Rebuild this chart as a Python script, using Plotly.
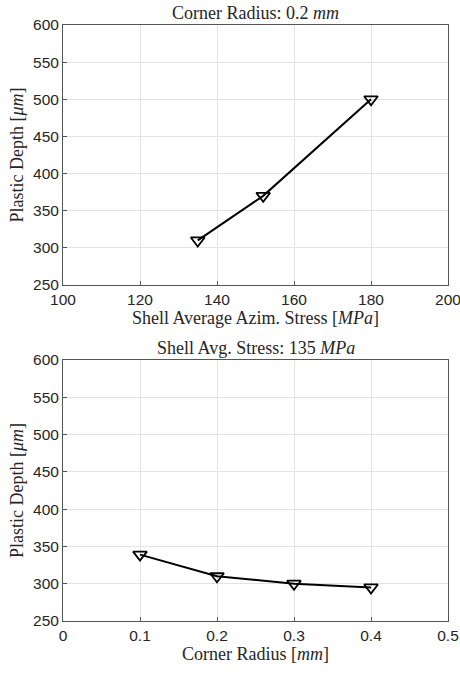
import plotly.graph_objects as go
from plotly.subplots import make_subplots

# Top panel: corner radius 0.2 mm
stress = [135, 152, 180]
depth_stress = [310, 370, 500]
# Bottom panel: shell avg stress 135 MPa
radius = [0.1, 0.2, 0.3, 0.4]
depth_radius = [339, 310, 300, 295]

y_ticks = [250, 300, 350, 400, 450, 500, 550, 600]
x1_ticks = [100, 120, 140, 160, 180, 200]
x2_ticks = [0, 0.1, 0.2, 0.3, 0.4, 0.5]
x2_labels = ["0", "0.1", "0.2", "0.3", "0.4", "0.5"]

W, H = 460, 673
ml, mr, mt, mb = 63, 12, 25, 52
ph = H - mt - mb

def dom(top_px, bot_px):
    return [(H - mb - bot_px) / ph, (H - mb - top_px) / ph]

fig = make_subplots(rows=2, cols=1)

marker = dict(symbol="triangle-down-open", size=12, color="black", line=dict(width=1.8, color="black"))
fig.add_trace(go.Scatter(x=stress, y=depth_stress, mode="lines+markers",
                         line=dict(color="black", width=2), marker=marker, showlegend=False), row=1, col=1)
fig.add_trace(go.Scatter(x=radius, y=depth_radius, mode="lines+markers",
                         line=dict(color="black", width=2), marker=marker, showlegend=False), row=2, col=1)

serif = "Liberation Serif, DejaVu Serif, serif"
sans = "Liberation Sans, DejaVu Sans, sans-serif"
axcol = "#262626"

common_axis = dict(showline=True, mirror=True, linecolor="#555555", linewidth=1,
                   ticks="inside", ticklen=4, tickcolor="#555555", automargin=False,
                   showgrid=True, gridcolor="#e3e3e3", gridwidth=1, zeroline=False,
                   tickfont=dict(family=sans, size=15.5, color=axcol))

fig.update_xaxes(**common_axis, ticklabeloverflow="allow")
fig.update_yaxes(**common_axis)

tf = dict(family=serif, size=18, color=axcol)
fig.update_xaxes(range=[100, 200], tickvals=x1_ticks, domain=[0, 1],
                 title=dict(text="Shell Average Azim. Stress [<i>MPa</i>]", font=tf, standoff=2),
                 row=1, col=1)
fig.update_xaxes(range=[0, 0.5], tickvals=x2_ticks, ticktext=x2_labels, domain=[0, 1],
                 title=dict(text="Corner Radius [<i>mm</i>]", font=tf, standoff=2),
                 row=2, col=1)
ytitle = dict(text="Plastic Depth [<i>μm</i>]", font=tf, standoff=4)
fig.update_yaxes(range=[250, 600], tickvals=y_ticks, domain=dom(25, 285), title=ytitle, row=1, col=1)
fig.update_yaxes(range=[250, 600], tickvals=y_ticks, domain=dom(360, 621), title=ytitle, row=2, col=1)

fig.add_annotation(text="Corner Radius: 0.2 <i>mm</i>", xref="paper", yref="paper",
                   x=0.5, y=dom(25, 285)[1], yshift=0, yanchor="bottom", showarrow=False,
                   font=tf)
fig.add_annotation(text="Shell Avg. Stress: 135 <i>MPa</i>", xref="paper", yref="paper",
                   x=0.5, y=dom(360, 621)[1], yshift=0, yanchor="bottom", showarrow=False,
                   font=tf)

fig.update_layout(width=W, height=H, margin=dict(l=ml, r=mr, t=mt, b=mb),
                  paper_bgcolor="white", plot_bgcolor="white")

fig.write_html("out.html")
